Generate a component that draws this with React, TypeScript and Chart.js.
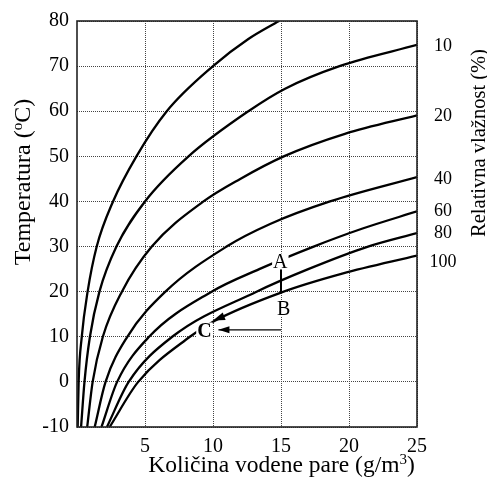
import React, { useEffect, useRef } from "react";
import { Chart, registerables } from "chart.js";

Chart.register(...registerables);

// Relative-humidity curves: temperature (°C) vs. water vapour (g/m³)
const rh5T = [-10, 0, 10, 20, 30, 40, 50, 60, 70, 76, 80];
const rh5X = [0.05, 0.12, 0.35, 0.78, 1.45, 2.65, 4.37, 6.6, 10.0, 12.6, 14.85];
const rh10T = [-10, 0, 10, 20, 30, 40, 50, 60, 65, 70, 74.7];
const rh10X = [0.3, 0.55, 0.95, 1.65, 2.9, 5.0, 8.2, 12.6, 15.3, 19.3, 25];
const rh20T = [-10, 0, 10, 20, 30, 40, 45, 50, 55, 59.1];
const rh20X = [0.75, 1.15, 1.9, 3.3, 5.5, 9.3, 12.0, 15.2, 19.7, 25];
const rh40T = [-10, 0, 10, 20, 30, 35, 40, 45.4];
const rh40X = [1.3, 2.1, 3.7, 6.5, 11.0, 14.2, 18.6, 25];
const rh60T = [-10, 0, 10, 20, 25, 30, 34, 37.8];
const rh60X = [1.8, 2.95, 5.3, 9.9, 13.4, 17.4, 21.0, 25];
const rh80T = [-10, 0, 10, 20, 25, 30, 33];
const rh80X = [2.2, 3.8, 7.0, 13.2, 17.0, 21.4, 25];
const rh100T = [-10, 0, 10, 13.5, 19.8, 24, 28];
const rh100X = [2.4, 4.5, 8.3, 10.1, 15, 19.5, 25];

const curveT = [rh5T, rh10T, rh20T, rh40T, rh60T, rh80T, rh100T];
const curveX = [rh5X, rh10X, rh20X, rh40X, rh60X, rh80X, rh100X];

// Right-hand curve labels (relative humidity %)
const rhLabels = ["10", "20", "40", "60", "80", "100"];
const rhLabelT = [74.5, 58.9, 45, 37.8, 33, 26.6];

// Axis ticks
const xTickValues = [5, 10, 15, 20, 25];
const yTickValues = [-10, 0, 10, 20, 30, 40, 50, 60, 70, 80];

// Process A -> B, B -> C, horizontal arrow
const abX = [15, 15];
const abT = [25.1, 19.8];
const hArrowX = [15, 10.4];
const hArrowT = [11.55, 11.55];
const curveArrowX = [11.2, 10.0];
const curveArrowT = [15.0, 13.6];
const pointLabels = ["A", "B", "C"];
const pointLabelX = [14.95, 15.2, 9.37];
const pointLabelT = [26.7, 16.3, 11.4];

const FONT = '"Liberation Serif", "Times New Roman", serif';

function drawRich(ctx: CanvasRenderingContext2D, parts: [string, number, number][], x: number, y: number) {
  let total = 0;
  const widths = parts.map(([t, s]) => {
    ctx.font = `${s}px ${FONT}`;
    const w = ctx.measureText(t).width;
    total += w;
    return w;
  });
  let cx = x - total / 2;
  ctx.textAlign = "left";
  parts.forEach(([t, s, dy], i) => {
    ctx.font = `${s}px ${FONT}`;
    ctx.fillText(t, cx, y + dy);
    cx += widths[i];
  });
}

function arrowHead(ctx: CanvasRenderingContext2D, fx: number, fy: number, tx: number, ty: number, len: number, hw: number) {
  const a = Math.atan2(ty - fy, tx - fx);
  ctx.beginPath();
  ctx.moveTo(tx, ty);
  ctx.lineTo(tx - len * Math.cos(a) + hw * Math.sin(a), ty - len * Math.sin(a) - hw * Math.cos(a));
  ctx.lineTo(tx - len * Math.cos(a) - hw * Math.sin(a), ty - len * Math.sin(a) + hw * Math.cos(a));
  ctx.closePath();
  ctx.fill();
}

const overlay = {
  id: "overlay",
  afterDraw(chart: any) {
    const { ctx, chartArea: ca, scales } = chart;
    const px = (v: number) => scales.x.getPixelForValue(v);
    const py = (v: number) => scales.y.getPixelForValue(v);
    ctx.save();
    ctx.fillStyle = "#000";
    ctx.textBaseline = "middle";
    ctx.textAlign = "center";
    pointLabels.forEach((t, i) => {
      ctx.font = `${t === "C" ? "bold " : ""}20px ${FONT}`;
      const w = ctx.measureText(t).width;
      const x = px(pointLabelX[i]);
      const y = py(pointLabelT[i]);
      ctx.fillStyle = "#fff";
      ctx.fillRect(x - w / 2 - 1, y - 8, w + 2, 16);
      ctx.fillStyle = "#000";
      ctx.fillText(t, x, y + 1);
    });
    // arrow heads
    arrowHead(ctx, px(hArrowX[0]), py(hArrowT[0]), px(hArrowX[1]), py(hArrowT[1]), 11, 3.5);
    arrowHead(ctx, px(curveArrowX[0]), py(curveArrowT[0]), px(curveArrowX[1]), py(curveArrowT[1]), 12, 4);
    // frame
    ctx.strokeStyle = "#222";
    ctx.lineWidth = 1.6;
    ctx.strokeRect(ca.left, ca.top, ca.right - ca.left, ca.bottom - ca.top);
    // right labels
    ctx.font = `18px ${FONT}`;
    ctx.textAlign = "center";
    ctx.textBaseline = "middle";
    rhLabels.forEach((t, i) => ctx.fillText(t, ca.right + 26, py(rhLabelT[i])));
    // titles
    ctx.textBaseline = "alphabetic";
    drawRich(ctx, [["Količina vodene pare (g/m", 23.5, 0], ["3", 15, -8], [")", 23.5, 0]], 281.5, 472);
    ctx.save();
    ctx.translate(30, 182);
    ctx.rotate(-Math.PI / 2);
    drawRich(ctx, [["Temperatura (", 24, 0], ["o", 15, -8], ["C)", 24, 0]], 0, 0);
    ctx.restore();
    ctx.save();
    ctx.translate(485, 143);
    ctx.rotate(-Math.PI / 2);
    drawRich(ctx, [["Relativna vlažnost (%)", 20.5, 0]], 0, 0);
    ctx.restore();
    ctx.restore();
  },
};

export default function App() {
  const ref = useRef<HTMLCanvasElement>(null);
  useEffect(() => {
    const canvas = ref.current!;
    const curveSets = curveT.map((ts, k) => ({
      data: ts.map((t, i) => ({ x: curveX[k][i], y: t })),
      borderColor: "#000",
      borderWidth: 2.3,
      pointRadius: 0,
      fill: false,
      cubicInterpolationMode: "monotone" as const,
    }));
    const abSet = {
      data: abT.map((t, i) => ({ x: abX[i], y: t })),
      borderColor: "#000",
      borderWidth: 2,
      pointRadius: 0,
      fill: false,
      tension: 0,
    };
    const hSet = {
      data: hArrowT.map((t, i) => ({ x: hArrowX[i], y: t })),
      borderColor: "#000",
      borderWidth: 1.2,
      pointRadius: 0,
      fill: false,
      tension: 0,
    };
    const chart = new Chart(canvas, {
      type: "line",
      data: { datasets: [...curveSets, abSet, hSet] as any },
      plugins: [overlay],
      options: {
        animation: false,
        responsive: false,
        devicePixelRatio: 1,
        layout: { padding: { left: 0, right: 70, top: 21, bottom: 0 } },
        plugins: { legend: { display: false }, tooltip: { enabled: false } },
        scales: {
          x: {
            type: "linear",
            min: 0,
            max: 25,
            afterBuildTicks: (s: any) => {
              s.ticks = xTickValues.map((v) => ({ value: v }));
            },
            afterFit: (s: any) => {
              s.height = 53;
            },
            ticks: { font: { family: FONT, size: 20 }, color: "#000", padding: 8, maxRotation: 0, autoSkip: false },
            grid: { color: "#444", lineWidth: 1, drawTicks: false },
            border: { display: false, dash: [1, 1] },
          },
          y: {
            type: "linear",
            min: -10,
            max: 80,
            afterBuildTicks: (s: any) => {
              s.ticks = yTickValues.map((v) => ({ value: v }));
            },
            afterFit: (s: any) => {
              s.width = 77;
            },
            ticks: { font: { family: FONT, size: 20 }, color: "#000", padding: 8, autoSkip: false },
            grid: { color: "#444", lineWidth: 1, drawTicks: false },
            border: { display: false, dash: [1, 1] },
          },
        },
      } as any,
    });
    return () => chart.destroy();
  }, []);
  return (
    <div style={{ position: "fixed", left: 0, top: 0, width: 487, height: 480, background: "#fff" }}>
      <canvas ref={ref} width={487} height={480} style={{ display: "block", width: 487, height: 480 }} />
    </div>
  );
}
